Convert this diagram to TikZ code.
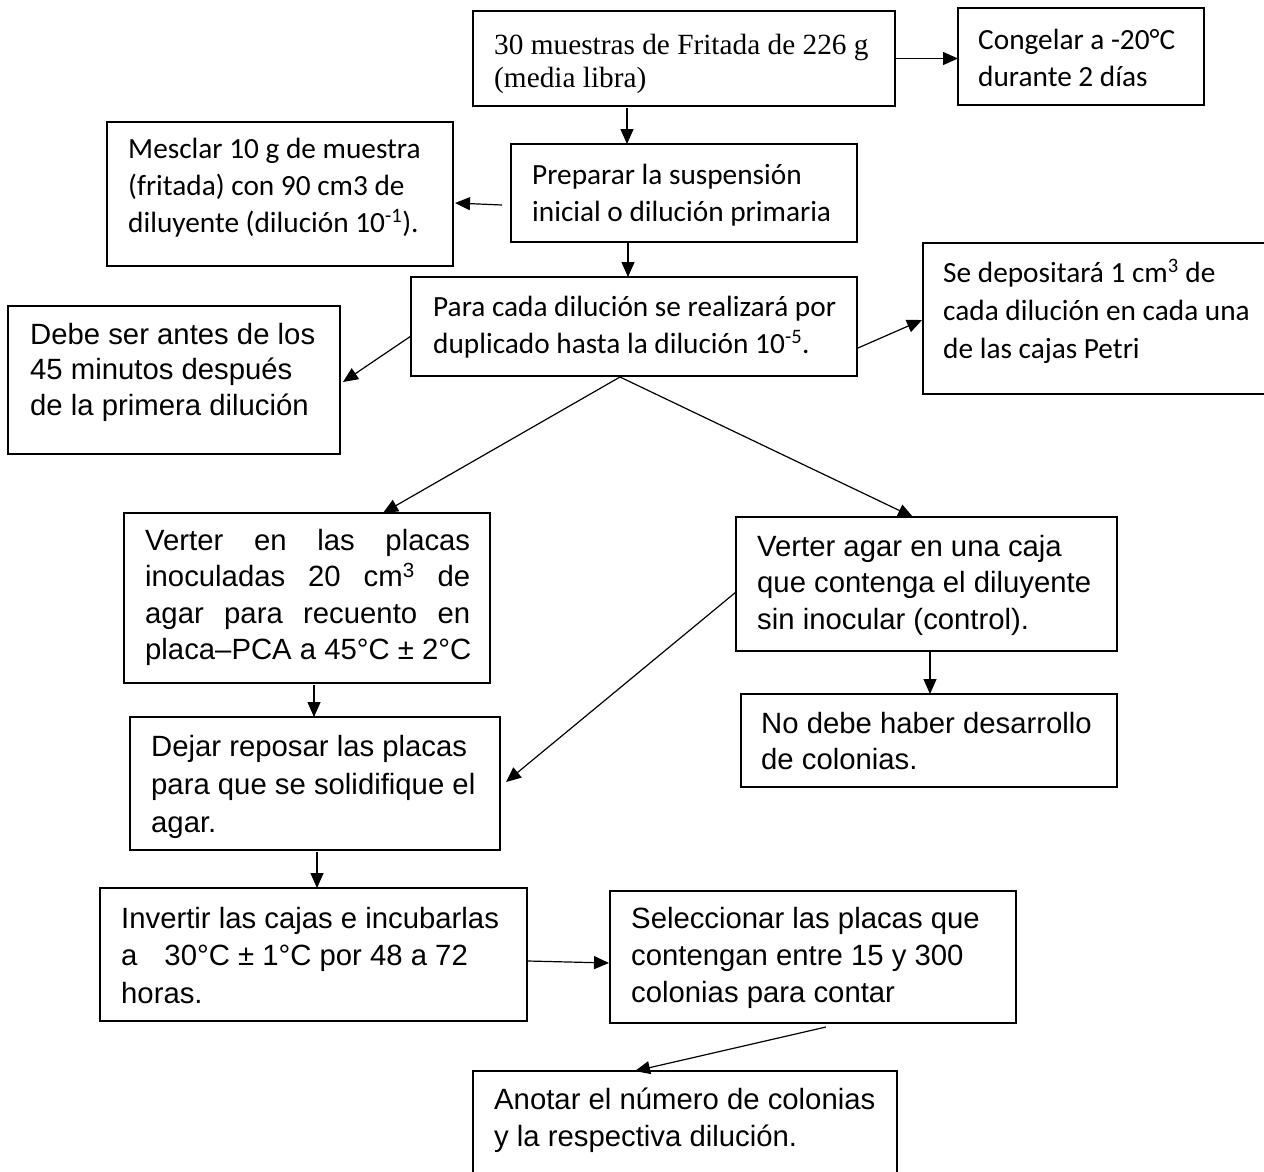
\documentclass[tikz,border=0pt]{standalone}
\usepackage{fontspec}
\setmainfont{Liberation Sans}
\newfontfamily\calib{Carlito}
\newfontfamily\timesf{Liberation Serif}
\newfontfamily\arialf{Liberation Sans}
\usetikzlibrary{arrows.meta}
\begin{document}
\begin{tikzpicture}[x=1pt,y=-1pt,
  box/.style={draw, line width=1.2pt, inner sep=0pt, outer sep=0pt, anchor=north west},
  txt/.style={inner sep=0pt, anchor=base west, text width=440pt,
    execute at begin node={\spaceskip=0pt\xspaceskip=0pt\relax}},
  ctxt/.style={txt, font=\calib\fontsize{29.3}{37}\selectfont},
  atxt/.style={txt, font=\arialf\fontsize{29.3}{36.5}\selectfont},
  ttxt/.style={txt, font=\timesf\fontsize{29.3}{33}\selectfont},
  conn/.style={line width=1.2pt, -{Triangle[length=15pt,width=13pt]}},
]
\useasboundingbox[fill=white] (0,0) rectangle (1264,1171);

% boxes
\node[box, minimum width=422pt, minimum height=95pt]  (A) at (473,11) {};
\node[box, minimum width=246pt, minimum height=97pt]  (B) at (958,8) {};
\node[box, minimum width=346pt, minimum height=98pt]  (C) at (511,144) {};
\node[box, minimum width=346pt, minimum height=144pt] (D) at (107,122) {};
\node[box, minimum width=446pt, minimum height=99pt]  (E) at (411,277) {};
\node[box, minimum width=360pt, minimum height=151pt] (F) at (923,243) {};
\node[box, minimum width=332pt, minimum height=148pt] (G) at (8,306) {};
\node[box, minimum width=366pt, minimum height=170pt] (H) at (124,513) {};
\node[box, minimum width=381pt, minimum height=134pt] (I) at (736,517) {};
\node[box, minimum width=376pt, minimum height=93pt]  (J) at (741,694) {};
\node[box, minimum width=370pt, minimum height=133pt] (K) at (130,717) {};
\node[box, minimum width=427pt, minimum height=133pt] (L) at (100,888) {};
\node[box, minimum width=406pt, minimum height=132pt] (M) at (610,891) {};
\node[box, minimum width=424pt, minimum height=130pt] (N) at (473,1071) {};

% texts
\node[ttxt] (tA) at (494,54) {30 muestras de Fritada de 226 g\\(media libra)};
\node[ctxt] (tB) at (978,49) {Congelar a -20°C\\durante 2 días};
\node[ctxt] (tC) at (532,184) {Preparar la suspensión\\inicial o dilución primaria};
\node[ctxt] (tD) at (128,158) {Mesclar 10 g de muestra\\(fritada) con 90 cm3 de\\diluyente (dilución 10\textsuperscript{-1}).};
\node[ctxt] (tE) at (433,316) {Para cada dilución se realizará por\\duplicado hasta la dilución 10\textsuperscript{-5}.};
\node[ctxt, font=\calib\fontsize{29.3}{38}\selectfont] (tF) at (943,282) {Se depositará 1 cm\textsuperscript{3} de\\cada dilución en cada una\\de las cajas Petri};
\node[atxt, font=\arialf\fontsize{29.3}{35.5}\selectfont] (tG) at (30,344) {Debe ser antes de los\\45 minutos después\\de la primera dilución};
\node[atxt] (tH) at (145,550) {\makebox[325pt][l]{Verter\hfill en\hfill las\hfill placas}\\\makebox[325pt][l]{inoculadas\hfill 20\hfill cm\textsuperscript{3}\hfill de}\\\makebox[325pt][l]{agar\hfill para\hfill recuento\hfill en}\\placa–PCA a 45°C ± 2°C};
\node[atxt] (tI) at (757,556) {Verter agar en una caja\\que contenga el diluyente\\sin inocular (control).};
\node[atxt] (tJ) at (761,733) {No debe haber desarrollo\\de colonias.};
\node[atxt, font=\arialf\fontsize{29.3}{38}\selectfont] (tK) at (151,756) {Dejar reposar las placas\\para que se solidifique el\\agar.};
\node[atxt, font=\arialf\fontsize{29.3}{37.5}\selectfont] (tL) at (121,928) {Invertir las cajas e incubarlas\\a\hspace{27pt}30°C ± 1°C por 48 a 72\\horas.};
\node[atxt, font=\arialf\fontsize{29.3}{37}\selectfont] (tM) at (631,928) {Seleccionar las placas que\\contengan entre 15 y 300\\colonias para contar};
\node[atxt, font=\arialf\fontsize{29.3}{37}\selectfont] (tN) at (494,1109) {Anotar el número de colonias\\y la respectiva dilución.};

% connectors
\coordinate (Esplit) at ([xshift=209pt,yshift=-1pt]E.south west);
\draw[conn] (A.east) -- (A.east -| B.west);
\draw[conn] ([xshift=154pt,yshift=-2pt]A.south west) -- ([xshift=154pt]A.south west |- C.north);
\draw[conn] ([xshift=-9pt,yshift=-61pt]C.north west) -- ([xshift=2pt,yshift=-81pt]D.north east);
\draw[conn] ([xshift=117pt]C.south west) -- ([xshift=117pt]C.south west |- E.north);
\draw[conn] ([xshift=1pt,yshift=-71pt]E.north east) -- ([xshift=-1pt,yshift=-77pt]F.north west);
\draw[conn] ([yshift=-59pt]E.north west) -- ([xshift=3pt,yshift=-76pt]G.north east);
\draw[conn] (Esplit) -- ([xshift=259pt]H.north west);
\draw[conn] (Esplit) -- ([xshift=177pt]I.north west);
\draw[conn] ([xshift=190pt,yshift=-2pt]H.south west) -- ([xshift=190pt]H.south west |- K.north);
\draw[conn] ([xshift=194pt]I.south west) -- ([xshift=194pt]I.south west |- J.north);
\draw[conn] ([yshift=-75pt]I.north west) -- ([xshift=6pt,yshift=-65pt]K.north east);
\draw[conn] ([xshift=187pt,yshift=-2pt]K.south west) -- ([xshift=187pt]K.south west |- L.north);
\draw[conn] ([xshift=1pt,yshift=-73pt]L.north east) -- ([xshift=-1pt,yshift=-72pt]M.north west);
\draw[conn] ([xshift=216pt,yshift=-4pt]M.south west) -- ([xshift=162pt]N.north west);
\end{tikzpicture}
\end{document}
